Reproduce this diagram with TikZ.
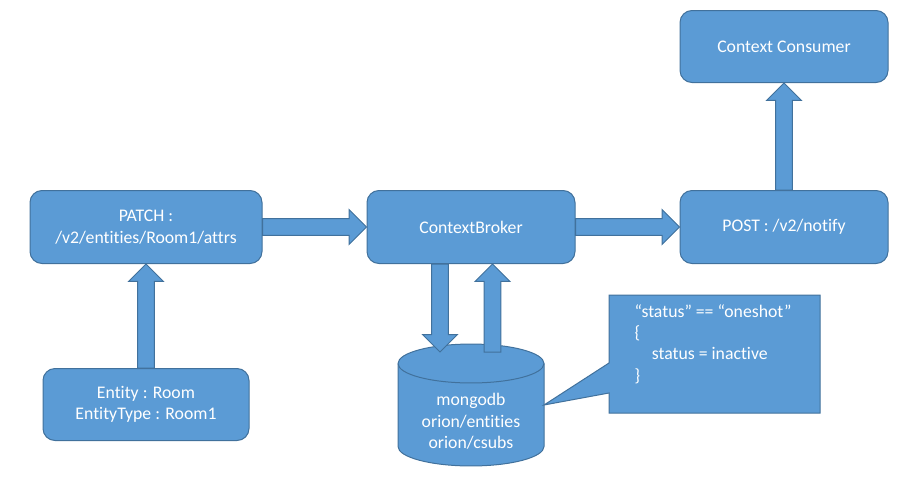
\documentclass[tikz,border=0pt]{standalone}
\usepackage{fontspec}
\setmainfont[Ligatures=NoCommon]{Carlito}
\usetikzlibrary{calc}
\definecolor{box_blue}{RGB}{91,155,213}
\definecolor{edge_blue}{RGB}{65,113,156}

\begin{document}
\begin{tikzpicture}[x=0.75pt,y=-0.75pt,line width=0.75pt,font=\fontsize{13.3pt}{16pt}\selectfont]
    \tikzstyle{box}=[draw=edge_blue, fill=box_blue, rounded corners=9pt, text=white, align=center, inner sep=0pt]
    \tikzstyle{label}=[text=white, inner sep=0pt]
    \tikzstyle{blockarrow}=[draw=edge_blue, fill=box_blue, line join=miter, to path={
        ($(\tikztotarget)!13pt!(\tikztostart)$) coordinate (hb)
        ($(\tikztostart)!6.2pt!90:(\tikztotarget)$)
        -- ($(hb)!6.2pt!90:(\tikztotarget)$)
        -- ($(hb)!13pt!90:(\tikztotarget)$)
        -- (\tikztotarget)
        -- ($(hb)!13pt!-90:(\tikztotarget)$)
        -- ($(hb)!6.2pt!-90:(\tikztotarget)$)
        -- ($(\tikztostart)!6.2pt!-90:(\tikztotarget)$)
        -- cycle}]
    \useasboundingbox (0,0) rectangle (916,489);

    \node[box, minimum width=174pt, minimum height=54.75pt] (patch) at (146,227) {PATCH :\\/v2/entities/Room1/attrs};
    \node[box, minimum width=154.5pt, minimum height=54pt] (entity) at (146,404.5) {Entity : Room\\EntityType : Room1};
    \node[box, minimum width=156pt, minimum height=54.75pt] (broker) at (471,227) {ContextBroker};
    \node[box, minimum width=156pt, minimum height=54.75pt] (post) at (784,227) {POST : /v2/notify};
    \node[box, minimum width=156pt, minimum height=54pt] (consumer) at (784,46.5) {Context Consumer};

    % mongodb cylinder
    \path[fill=box_blue, draw=edge_blue] (398,363.5) -- (398,446.5)
      arc[start angle=180, end angle=360, x radius=54.75pt, y radius=14.6pt] -- (544,363.5)
      arc[start angle=0, end angle=180, x radius=54.75pt, y radius=14.6pt] -- cycle;
    \draw[edge_blue] (398,363.5) arc[start angle=180, end angle=360, x radius=54.75pt, y radius=14.6pt];
    \node[label, align=center] (db) at (471,421.5) {mongodb\\orion/entities\\orion/csubs};

    % callout
    \path[fill=box_blue, draw=edge_blue, line join=miter] (609,295) -- (820,295) -- (820,413) -- (609,413)
      -- (609,393) -- (544,405) -- (609,363) -- cycle;
    \node[label, align=left, anchor=west] (note) at (634,344)
      {“status” == “oneshot”\\\{\\\hspace{13pt}status = inactive\\\}};

    \coordinate (dbin) at (440,352);
    \coordinate (dbout) at (492.5,352);
    \coordinate (bdown) at (broker.south -| dbin);
    \coordinate (bup) at (broker.south -| dbout);

    \path
     (entity.north) edge[blockarrow] (patch.south)
     (patch.east) edge[blockarrow] (broker.west)
     (broker.east) edge[blockarrow] (post.west)
     (post.north) edge[blockarrow] (consumer.south)
     (bdown) edge[blockarrow] (dbin)
     (dbout) edge[blockarrow] (bup)
     ;
\end{tikzpicture}
\end{document}
